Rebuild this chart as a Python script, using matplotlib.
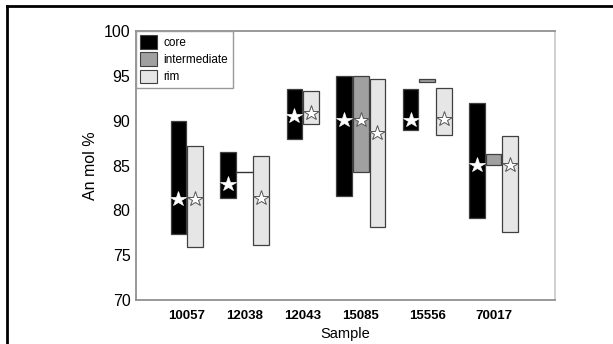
import matplotlib
matplotlib.use("Agg")
import matplotlib.pyplot as plt
from matplotlib.patches import Patch
from matplotlib.lines import Line2D
import numpy as np

plt.rcParams['font.family'] = ['Liberation Sans', 'DejaVu Sans']

samples = ["10057", "12038", "12043", "15085", "15556", "70017"]
series = ["core", "intermediate", "rim"]
# (low, high) ranges in An mol %; None = not present
core_low = [77.4, 81.4, 87.9, 81.6, 89.0, 79.1]
core_high = [90.0, 86.5, 93.5, 95.0, 93.5, 92.0]
inter_low = [None, 84.3, None, 84.25, 94.3, 85.1]
inter_high = [None, 84.3, None, 95.0, 94.7, 86.3]
rim_low = [75.9, 76.1, 89.6, 78.1, 88.45, 77.6]
rim_high = [87.2, 86.1, 93.3, 94.7, 93.6, 88.3]
# mean values (stars); None = no star
core_mean = [81.3, 82.9, 90.5, 90.05, 90.05, 85.1]
inter_mean = [None, None, None, 90.05, None, None]
rim_mean = [81.3, 81.4, 90.8, 88.6, 90.2, 85.1]

colors = {"core": "#000000", "intermediate": "#a0a0a0", "rim": "#e6e6e6"}
lows = {"core": core_low, "intermediate": inter_low, "rim": rim_low}
highs = {"core": core_high, "intermediate": inter_high, "rim": rim_high}
means = {"core": core_mean, "intermediate": inter_mean, "rim": rim_mean}

fig = plt.figure(figsize=(6.13, 3.44), dpi=100)
ax = fig.add_axes([136/613, 1 - 300/344, (555-136)/613, (300-31)/344])

slot = 0
centers = []
for i, s in enumerate(samples):
    positions = []
    for ser in series:
        lo = lows[ser][i]
        hi = highs[ser][i]
        if lo is None:
            continue
        x = slot
        positions.append(x)
        h = hi - lo
        if h <= 0.05:
            ax.plot([x - 0.47, x + 0.47], [lo, lo], color="#333333", lw=1.0, zorder=2)
        else:
            ax.bar(x, h, bottom=lo, width=0.94, color=colors[ser],
                   edgecolor="#404040", linewidth=0.9, zorder=2)
        m = means[ser][i]
        if m is not None:
            if ser == "core":
                ax.plot(x, m, marker="*", ms=11.5, mfc="white", mec="white", mew=0.5, zorder=3)
            else:
                ax.plot(x, m, marker="*", ms=11.5, mfc="white", mec="#555555", mew=0.7, zorder=3)
        slot += 1
    centers.append(np.mean(positions))
    slot += 1

ax.set_xlim(-2.55, 22.7)
ax.set_ylim(70, 100)
ax.set_yticks([70, 75, 80, 85, 90, 95, 100])
ax.set_xticks(centers)
ax.set_xticklabels(samples, fontweight="bold", fontsize=9.5)
ax.tick_params(axis="y", labelsize=11.5, length=0, pad=4)
ax.tick_params(axis="x", length=0, pad=7)
for sp in ["left", "bottom", "top"]:
    ax.spines[sp].set_color("#888888")
    ax.spines[sp].set_linewidth(1.2)
ax.spines["right"].set_color("#c8c8c8")
ax.spines["right"].set_linewidth(1.2)

ax.set_ylabel("An mol %", fontsize=11.5, labelpad=4)
ax.set_xlabel("Sample", fontsize=10.5, labelpad=4)

handles = [Patch(facecolor=colors[s], edgecolor="#404040", linewidth=0.8, label=s) for s in series]
leg = ax.legend(handles=handles, loc="upper left", bbox_to_anchor=(0, 1), borderaxespad=0,
                fontsize=8.5, handlelength=1.4, handleheight=1.4, handletextpad=0.6,
                labelspacing=0.3, borderpad=0.35, fancybox=False, framealpha=1)
leg.get_frame().set_edgecolor("#999999")
leg.get_frame().set_linewidth(1.0)

# outer border (top and left)
fig.add_artist(Line2D([7/613, 1.0], [1 - 6/344, 1 - 6/344], transform=fig.transFigure, color="black", lw=2.0))
fig.add_artist(Line2D([7/613, 7/613], [0, 1 - 6/344], transform=fig.transFigure, color="black", lw=2.0))

fig.savefig("out.png", dpi=100)
